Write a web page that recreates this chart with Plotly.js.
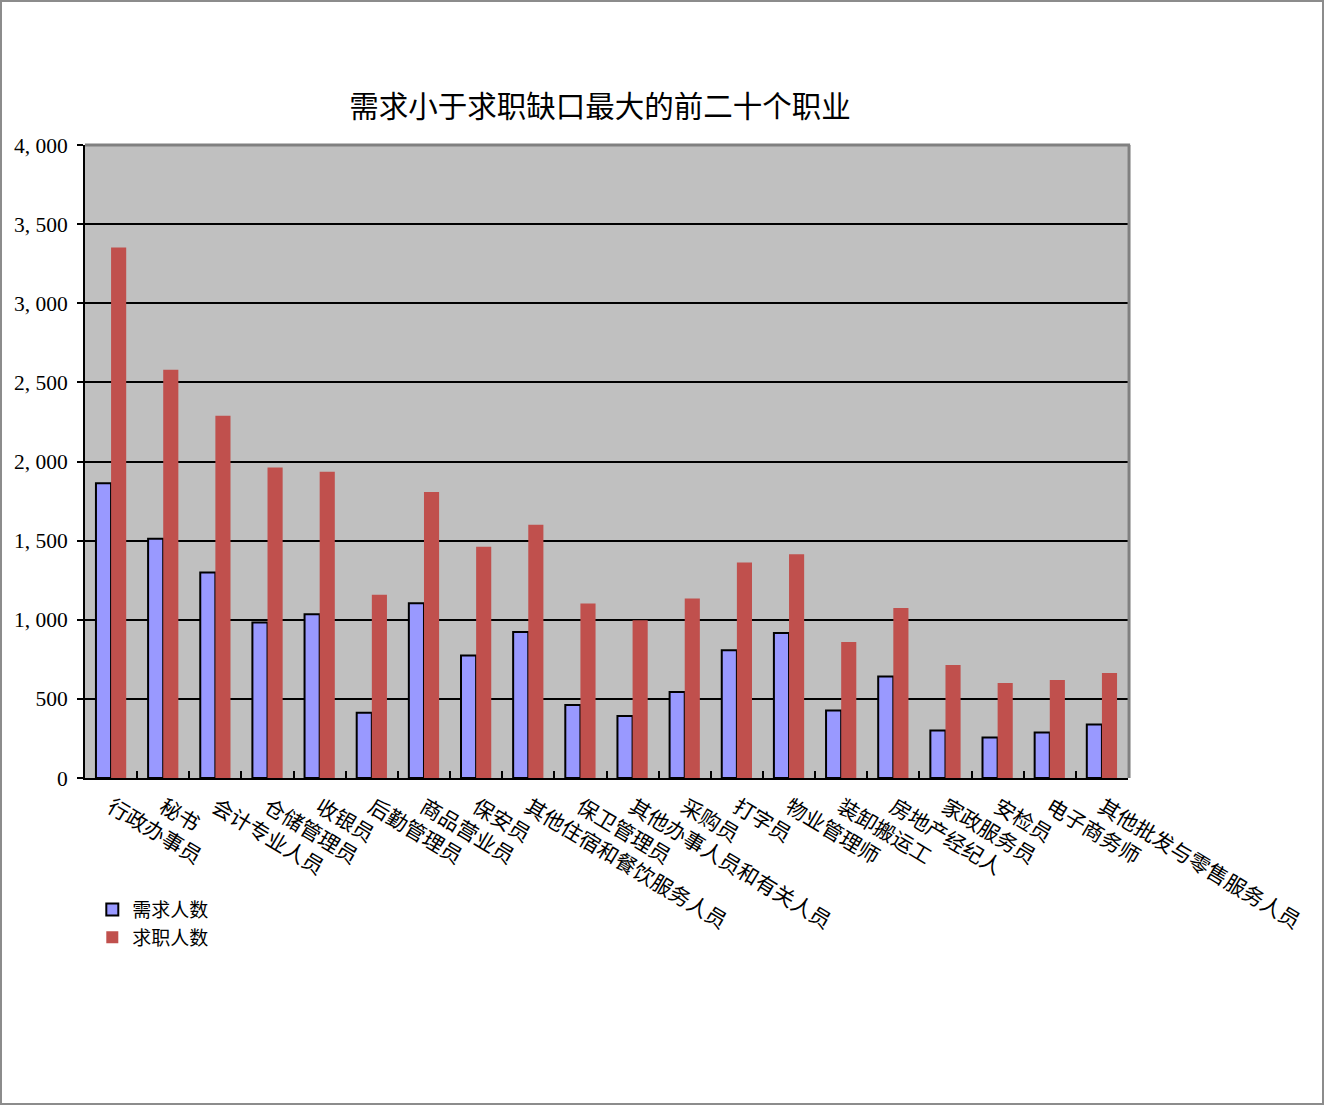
<!DOCTYPE html>
<html>
<head>
<meta charset="utf-8">
<script src="https://cdn.plot.ly/plotly-3.0.1.min.js"></script>
<style>
html,body{margin:0;padding:0;background:#fff;}
#chart{width:1320px;height:1101px;border:2px solid #8c8c8c;}
</style>
</head>
<body>
<div id="chart"></div>
<script>
const categories = ["行政办事员","秘书","会计专业人员","仓储管理员","收银员","后勤管理员","商品营业员","保安员","其他住宿和餐饮服务人员","保卫管理员","其他办事人员和有关人员","采购员","打字员","物业管理师","装卸搬运工","房地产经纪人","家政服务员","安检员","电子商务师","其他批发与零售服务人员"];
const demand = [1862,1512,1298,982,1034,413,1104,774,923,461,391,543,808,916,426,641,300,256,288,338];
const applicants = [3352,2580,2289,1962,1935,1158,1808,1462,1600,1102,997,1134,1361,1414,859,1074,714,601,620,664];
const yTickVals = [0,500,1000,1500,2000,2500,3000,3500,4000];
const yTickText = ["0","500","1, 000","1, 500","2, 000","2, 500","3, 000","3, 500","4, 000"];

const traces = [
  {type:"bar", name:"需求人数", x:categories, y:demand,
   marker:{color:"#9999ff", line:{color:"#000", width:2}}},
  {type:"bar", name:"求职人数", x:categories, y:applicants,
   marker:{color:"#c0504d", line:{width:0}}}
];
const layout = {
  width:1320, height:1101,
  margin:{l:83, r:194, t:143, b:325},
  paper_bgcolor:"#fff", plot_bgcolor:"#c0c0c0",
  font:{family:"Noto Sans CJK SC", color:"#000"},
  title:{text:"需求小于求职缺口最大的前二十个职业", font:{size:29.5, family:"Noto Sans CJK SC"}, x:0.453, xanchor:"center", y:0.905, yanchor:"middle"},
  bargap:0.42, bargroupgap:0,
  barmode:"group",
  showlegend:true,
  legend:{x:0.007, y:-0.178, xanchor:"left", yanchor:"top", font:{size:19, family:"Noto Sans CJK SC"}, tracegroupgap:0, itemwidth:30, bgcolor:"rgba(0,0,0,0)"},
  xaxis:{type:"category", tickangle:31, showline:true, linecolor:"#000", linewidth:2,
         ticks:"inside", tickson:"boundaries", ticklen:7, tickwidth:2, tickcolor:"#000",
         tickfont:{size:21, family:"Noto Sans CJK SC"}, showgrid:false, ticklabelstandoff:7, automargin:false},
  yaxis:{range:[0,4000], tickvals:yTickVals, ticktext:yTickText, showline:true, linecolor:"#000", linewidth:2,
         ticks:"outside", ticklen:6, tickwidth:2, tickcolor:"#000",
         showgrid:true, gridcolor:"#000", gridwidth:2, zeroline:false,
         tickfont:{size:21.5, family:"Liberation Serif"}, ticklabelstandoff:5, automargin:false},
  shapes:[
    {type:"line", xref:"paper", yref:"paper", x0:0, x1:1.002, y0:1, y1:1, line:{color:"#808080", width:3}},
    {type:"line", xref:"paper", yref:"paper", x0:1.001, x1:1.001, y0:0, y1:1, line:{color:"#808080", width:3}}
  ]
};
Plotly.newPlot("chart", traces, layout, {displayModeBar:false});
</script>
</body>
</html>
